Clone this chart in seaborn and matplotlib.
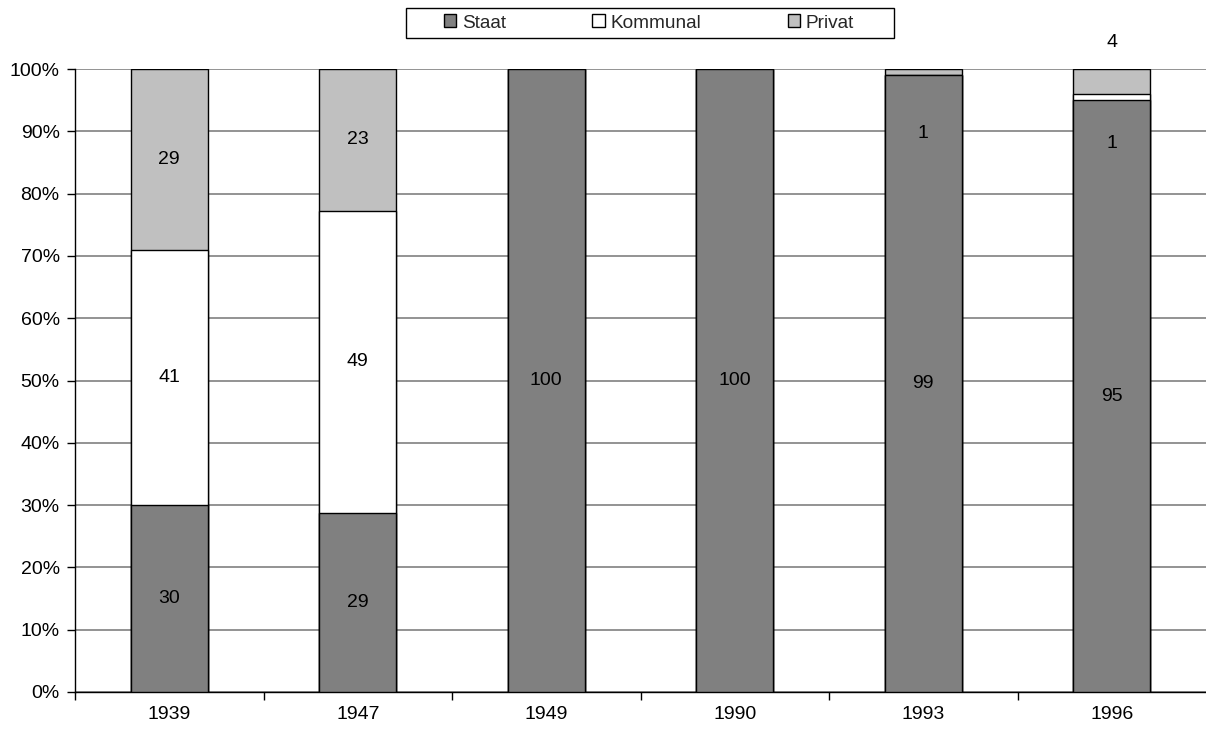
import matplotlib
matplotlib.use("Agg")
import matplotlib.pyplot as plt
import seaborn as sns
import numpy as np
import pandas as pd
from matplotlib.patches import Patch, Rectangle
from matplotlib.ticker import FuncFormatter, MultipleLocator, FixedLocator

years = ["1939", "1947", "1949", "1990", "1993", "1996"]
staat = [30, 29, 100, 100, 99, 95]
kommunal = [41, 49, 0, 0, 0, 1]
privat = [29, 23, 0, 0, 1, 4]
series_names = ["Staat", "Kommunal", "Privat"]
colors = ["#808080", "#FFFFFF", "#C0C0C0"]

sns.set_theme(style="white")
plt.rcParams["font.family"] = ["Liberation Sans", "DejaVu Sans"]

FS = 14

raw = np.array([staat, kommunal, privat], dtype=float)
totals = raw.sum(axis=0)
share = raw / totals * 100.0
cum = np.cumsum(share, axis=0)

fig = plt.figure(figsize=(12.06, 7.31), dpi=100)
ax = fig.add_axes([75 / 1206, 1 - 692 / 731, 1 - 75 / 1206, (692 - 69) / 731])

# draw from top cumulative down so stacked segments overlay
for i in [2, 1, 0]:
    df = pd.DataFrame({"year": years, "val": cum[i]})
    sns.barplot(data=df, x="year", y="val", order=years, color=colors[i],
                saturation=1, width=0.41, edgecolor="black", linewidth=1.0,
                ax=ax, zorder=3)

# value labels
label_override = {("1993", "Privat"): 89.7, ("1996", "Kommunal"): 88.1,
                  ("1996", "Privat"): 104.3}
for i, name in enumerate(series_names):
    for j, y in enumerate(years):
        v = raw[i, j]
        if v <= 0:
            continue
        bottom = cum[i, j] - share[i, j]
        ypos = label_override.get((y, name), bottom + share[i, j] / 2)
        ax.text(j, ypos, f"{int(v)}", ha="center", va="center", fontsize=FS,
                color="black", zorder=5, clip_on=False)

ax.set_xlim(-0.5, len(years) - 0.5)
ax.set_ylim(0, 100)
ax.yaxis.set_major_locator(MultipleLocator(10))
ax.yaxis.set_major_formatter(FuncFormatter(lambda v, p: f"{int(round(v))}%"))
ax.grid(axis="y", color="#808080", linewidth=1.2, zorder=0)
ax.grid(axis="x", visible=False)
ax.set_axisbelow(True)
ax.set_xlabel("")
ax.set_ylabel("")
for s in ["top", "right"]:
    ax.spines[s].set_visible(False)
for s in ["left", "bottom"]:
    ax.spines[s].set_visible(True)
    ax.spines[s].set_color("black")
    ax.spines[s].set_linewidth(1.0)

ax.xaxis.set_minor_locator(FixedLocator(np.arange(-0.5, len(years) - 0.6, 1.0)))
ax.tick_params(axis="x", which="major", length=0, pad=10, labelsize=FS, colors="black")
ax.tick_params(axis="x", which="minor", length=6, width=1, color="black", direction="out", bottom=True)
ax.tick_params(axis="y", which="major", length=6, width=1, color="black", direction="out",
               left=True, labelsize=FS, labelcolor="black", pad=5)

# legend (frameless) with a separate rectangular box
handles = [Patch(facecolor=c, edgecolor="black", linewidth=1.0, label=n)
           for c, n in zip(colors, series_names)]
leg = fig.legend(handles=handles, loc="center", ncol=3,
                 bbox_to_anchor=(649 / 1206, 1 - 23 / 731),
                 frameon=False, fontsize=FS - 0.3, handlelength=0.65, handleheight=0.65,
                 handletextpad=0.3, columnspacing=4.55, borderpad=0, borderaxespad=0)
fig.patches.append(Rectangle((406 / 1206, 1 - 38 / 731), 488 / 1206, 30 / 731,
                             transform=fig.transFigure, facecolor="none",
                             edgecolor="black", linewidth=1.0, zorder=0))

fig.savefig("out.png", dpi=100, facecolor="white")
